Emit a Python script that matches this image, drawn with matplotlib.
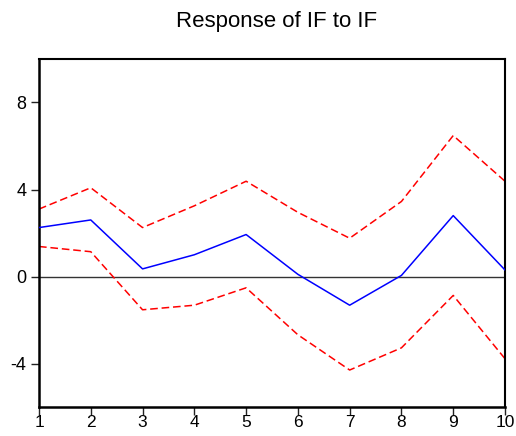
import matplotlib
matplotlib.use("Agg")
import matplotlib.pyplot as plt

periods = [1, 2, 3, 4, 5, 6, 7, 8, 9, 10]
response = [2.25, 2.6, 0.35, 1.0, 1.93, 0.1, -1.32, 0.05, 2.8, 0.3]
upper = [3.1, 4.08, 2.25, 3.25, 4.38, 2.95, 1.76, 3.45, 6.48, 4.38]
lower = [1.38, 1.14, -1.53, -1.32, -0.52, -2.68, -4.3, -3.28, -0.87, -3.78]
yticks = [-4, 0, 4, 8]
title = "Response of IF to IF"

plt.rcParams['font.family'] = ['Liberation Sans', 'DejaVu Sans']
plt.rcParams['axes.unicode_minus'] = False

fig = plt.figure(figsize=(5.16, 4.36), dpi=100)
ax = fig.add_axes([39/516, 1-407/436, (505-39)/516, (407-59)/436])

ax.axhline(0, color='#333333', lw=1.0, zorder=1)
ax.plot(periods, response, color='#0000ff', lw=1.1, zorder=3)
ax.plot(periods, upper, color='#ff0000', lw=1.1, dashes=(5, 2.5), zorder=2)
ax.plot(periods, lower, color='#ff0000', lw=1.1, dashes=(5, 2.5), zorder=2)

ax.set_xlim(1, 10)
ax.set_ylim(-6, 10)
ax.set_xticks(periods)
ax.set_yticks(yticks)
ax.tick_params(axis='both', direction='out', width=1, colors='#222222',
               labelsize=13, labelcolor='black')
ax.tick_params(axis='y', length=6, pad=3)
ax.tick_params(axis='x', length=5.5, pad=0.5, labelsize=12.5)

for side in ['left', 'bottom']:
    ax.spines[side].set_linewidth(1.8)
for side in ['top', 'right']:
    ax.spines[side].set_linewidth(1.5)

fig.text(277/516, 1-22/436, title, ha='center', va='center', fontsize=16)

fig.savefig("out.png", dpi=100)
